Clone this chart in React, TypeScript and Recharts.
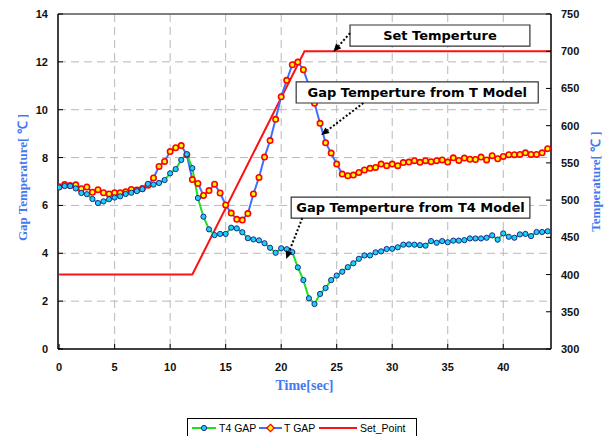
import React from 'react';
import {
  LineChart,
  Line,
  XAxis,
  YAxis,
  CartesianGrid,
  ReferenceArea,
  ReferenceLine,
} from 'recharts';

// time [sec], one sample every 0.5 s
const times = [
  0, 0.5, 1, 1.5, 2, 2.5, 3, 3.5, 4, 4.5, 5, 5.5, 6, 6.5, 7, 7.5, 8, 8.5, 9, 9.5,
  10, 10.5, 11, 11.5, 12, 12.5, 13, 13.5, 14, 14.5, 15, 15.5, 16, 16.5, 17, 17.5, 18, 18.5, 19, 19.5,
  20, 20.5, 21, 21.5, 22, 22.5, 23, 23.5, 24, 24.5, 25, 25.5, 26, 26.5, 27, 27.5, 28, 28.5, 29, 29.5,
  30, 30.5, 31, 31.5, 32, 32.5, 33, 33.5, 34, 34.5, 35, 35.5, 36, 36.5, 37, 37.5, 38, 38.5, 39, 39.5,
  40, 40.5, 41, 41.5, 42, 42.5, 43, 43.5, 44,
];

// gap temperature from the T4 model
const t4Gap = [
  6.75, 6.81, 6.81, 6.71, 6.52, 6.47, 6.27, 6.1, 6.17, 6.26, 6.33, 6.38, 6.48, 6.53, 6.6, 6.68, 6.9, 6.87, 6.94, 7.06,
  7.34, 7.52, 7.9, 8.14, 7.56, 6.31, 5.53, 5.0, 4.76, 4.81, 4.81, 5.07, 5.04, 4.88, 4.63, 4.58, 4.54, 4.42, 4.23, 4.02,
  4.21, 4.17, 4.05, 3.41, 2.88, 2.12, 1.88, 2.3, 2.55, 2.88, 3.07, 3.23, 3.42, 3.58, 3.77, 3.91, 3.91, 4.04, 4.08, 4.18,
  4.19, 4.25, 4.36, 4.37, 4.36, 4.34, 4.32, 4.51, 4.44, 4.51, 4.46, 4.53, 4.53, 4.55, 4.62, 4.62, 4.62, 4.65, 4.75, 4.57,
  4.83, 4.69, 4.65, 4.79, 4.81, 4.72, 4.89, 4.89, 4.92,
];

// gap temperature from the T model
const tGap = [
  6.78, 6.87, 6.83, 6.86, 6.7, 6.77, 6.55, 6.66, 6.53, 6.48, 6.53, 6.53, 6.57, 6.67, 6.64, 6.71, 6.84, 7.15, 7.63, 7.84,
  8.25, 8.41, 8.5, 8.12, 7.08, 6.92, 6.42, 6.62, 6.89, 6.52, 6.02, 5.68, 5.42, 5.39, 5.66, 6.48, 7.17, 8.02, 8.71, 9.6,
  10.54, 11.23, 11.88, 11.99, 11.67, 11.0, 10.27, 9.43, 8.62, 8.19, 7.73, 7.31, 7.24, 7.27, 7.38, 7.48, 7.55, 7.59, 7.73, 7.66,
  7.73, 7.66, 7.79, 7.81, 7.87, 7.8, 7.87, 7.83, 7.87, 7.9, 7.81, 7.99, 7.88, 7.98, 7.93, 7.92, 8.02, 7.9, 8.08, 7.95,
  8.05, 8.12, 8.12, 8.13, 8.2, 8.13, 8.13, 8.2, 8.37,
];

// set point temperature [°C] (right axis)
const setTimes = [0, 12, 22.1, 44.3];
const setPoint = [400, 400, 700, 700];

const xTicks = [0, 5, 10, 15, 20, 25, 30, 35, 40];
const gapTicks = [0, 2, 4, 6, 8, 10, 12, 14];
const tempTicks = [300, 350, 400, 450, 500, 550, 600, 650, 700, 750];

const gapData = times.map((t, i) => ({ t, t4: t4Gap[i], tg: tGap[i] }));
const setData = setTimes.map((t, i) => ({ t, sp: setPoint[i] }));

// callout boxes + arrows, in (time, gap) units
const notes = [
  { text: 'Set Temperture', x1: 26.2, x2: 42.4, y1: 12.66, y2: 13.54, from: [26.2, 13.2], to: [24.7, 12.42] },
  { text: 'Gap Temperture from T Model', x1: 21.35, x2: 43.15, y1: 10.28, y2: 11.16, from: [27.4, 10.28], to: [23.6, 8.94] },
  { text: 'Gap Temperture from T4 Model', x1: 20.9, x2: 42.4, y1: 5.47, y2: 6.35, from: [21.9, 5.47], to: [20.45, 3.76] },
];

const BLUE_TITLE = '#4479f2';
const tickFont = {
  fontFamily: '"Liberation Sans", Arial, sans-serif',
  fontWeight: 700,
  fontSize: 11,
  fill: '#111',
};
const titleFont = {
  fontFamily: '"Liberation Serif", "Times New Roman", serif',
  fontWeight: 700,
  fill: BLUE_TITLE,
};
const legendFont = {
  fontFamily: '"Liberation Sans", Arial, sans-serif',
  fontSize: 10.5,
  fill: '#000',
};

const LeftTick = ({ x, y, payload }: any) => (
  <g>
    <line x1={x + 10} x2={x + 15} y1={y} y2={y} stroke="#000" />
    <text x={x} y={y} dy="0.36em" textAnchor="end" {...tickFont}>{payload.value}</text>
  </g>
);

const RightTick = ({ x, y, payload }: any) => (
  <g>
    <line x1={x - 15} x2={x - 10} y1={y} y2={y} stroke="#000" />
    <text x={x} y={y} dy="0.36em" textAnchor="start" {...tickFont}>{payload.value}</text>
  </g>
);

const BottomTick = ({ x, y, payload }: any) => (
  <g>
    <line x1={x} x2={x} y1={y - 14} y2={y - 19} stroke="#000" />
    <text x={x} y={y} dy="0.71em" textAnchor="middle" {...tickFont}>{payload.value}</text>
  </g>
);

const Arrow = (p: any) => {
  const { x1, y1, x2, y2 } = p;
  const a = Math.atan2(y2 - y1, x2 - x1);
  const L = 8;
  const W = 3.5;
  const bx = x2 - L * Math.cos(a);
  const by = y2 - L * Math.sin(a);
  const pts = `${x2},${y2} ${bx + W * Math.sin(a)},${by - W * Math.cos(a)} ${bx - W * Math.sin(a)},${by + W * Math.cos(a)}`;
  return (
    <g>
      <line x1={x1} y1={y1} x2={bx} y2={by} stroke="#000" strokeWidth={2} strokeDasharray="2 2" />
      <polygon points={pts} fill="#000" />
    </g>
  );
};

const LeftTitle = (props: any) => {
  const vb = props.viewBox || { x: 0, y: 14, width: 58, height: 335 };
  const cx = vb.x + 22;
  const cy = vb.y + vb.height / 2 - 4;
  return (
    <text x={cx} y={cy} transform={`rotate(-90 ${cx} ${cy})`} textAnchor="middle" dy="0.35em" fontSize={13} {...titleFont}>
      Gap Temperature[ ℃ ]
    </text>
  );
};

const RightTitle = (props: any) => {
  const vb = props.viewBox || { x: 551, y: 14, width: 57, height: 335 };
  const cx = vb.x + 44;
  const cy = vb.y + vb.height / 2;
  return (
    <text x={cx} y={cy} transform={`rotate(-90 ${cx} ${cy})`} textAnchor="middle" dy="0.35em" fontSize={13} {...titleFont}>
      Temperature[ ℃ ]
    </text>
  );
};

const BottomTitle = (props: any) => {
  const vb = props.viewBox || { x: 58, y: 349, width: 493, height: 42 };
  const cx = vb.x + vb.width / 2;
  const cy = vb.y + 41;
  return (
    <text x={cx} y={cy} textAnchor="middle" fontSize={14} {...titleFont}>
      Time[sec]
    </text>
  );
};

const LegendBox = () => (
  <svg width={230} height={24} style={{ position: 'absolute', left: 187, top: 418 }}>
    <rect x={0.5} y={0.5} width={229} height={22} fill="#fff" stroke="#000" />
    <line x1={5} x2={29} y1={10} y2={10} stroke="#22dd22" strokeWidth={2} />
    <circle cx={17} cy={10} r={2.6} fill="#1ad0f5" stroke="#1a2a8a" />
    <text x={32} y={14} {...legendFont}>T4 GAP</text>
    <line x1={72} x2={95} y1={10} y2={10} stroke="#3f6fff" strokeWidth={2} />
    <polygon points="83.5,6.3 87.2,10 83.5,13.7 79.8,10" fill="#ffff00" stroke="#ff0000" strokeWidth={1.3} />
    <text x={97} y={14} {...legendFont}>T GAP</text>
    <line x1={132} x2={170} y1={10} y2={10} stroke="#ff1010" strokeWidth={2} />
    <text x={173} y={14} {...legendFont}>Set_Point</text>
  </svg>
);

export default function App() {
  return (
    <div
      style={{
        position: 'absolute',
        left: 0,
        top: 0,
        width: 608,
        height: 436,
        overflow: 'hidden',
        background: '#fff',
      }}
    >
      <LineChart width={608} height={436} margin={{ top: 14, right: 0, bottom: 45, left: 0 }}>
        <CartesianGrid
          stroke="#b8b8b8"
          strokeDasharray="8 5"
          horizontalValues={[2, 4, 6, 8, 10, 12]}
          verticalValues={[5, 10, 15, 20, 25, 30, 35, 40]}
        />
        <XAxis
          type="number"
          dataKey="t"
          domain={[-0.1, 44.3]}
          ticks={xTicks}
          allowDataOverflow
          height={42}
          tickSize={0}
          tickMargin={14}
          tick={<BottomTick />}
          axisLine={{ stroke: '#000', strokeWidth: 1.5 }}
          label={{ content: (p: any) => <BottomTitle {...p} /> }}
        />
        <YAxis
          domain={[0, 14]}
          ticks={gapTicks}
          width={58}
          tickSize={0}
          tickMargin={10}
          tick={<LeftTick />}
          axisLine={{ stroke: '#000', strokeWidth: 1.5 }}
          label={{ content: (p: any) => <LeftTitle {...p} /> }}
        />
        <YAxis
          yAxisId="right"
          orientation="right"
          domain={[300, 750]}
          ticks={tempTicks}
          width={57}
          tickSize={0}
          tickMargin={10}
          tick={<RightTick />}
          axisLine={{ stroke: '#000', strokeWidth: 1.5 }}
          label={{ content: (p: any) => <RightTitle {...p} /> }}
        />
        <ReferenceLine y={14} stroke="#555" strokeWidth={1.5} />
        <Line
          yAxisId="right"
          data={setData}
          dataKey="sp"
          name="Set_Point"
          stroke="#ff1010"
          strokeWidth={2}
          dot={false}
          isAnimationActive={false}
        />
        <Line
          data={gapData}
          dataKey="tg"
          name="T GAP"
          stroke="#3f6fff"
          strokeWidth={2}
          dot={{ r: 2.7, fill: '#ffff00', stroke: '#ff0000', strokeWidth: 1.6 }}
          isAnimationActive={false}
        />
        <Line
          data={gapData}
          dataKey="t4"
          name="T4 GAP"
          stroke="#22dd22"
          strokeWidth={2}
          dot={{ r: 2.6, fill: '#1ad0f5', stroke: '#1a2a8a', strokeWidth: 1 }}
          isAnimationActive={false}
        />
        {notes.map((n) => (
          <ReferenceArea
            key={n.text}
            x1={n.x1}
            x2={n.x2}
            y1={n.y1}
            y2={n.y2}
            fill="#fff"
            fillOpacity={1}
            stroke="#333"
            strokeWidth={1.2}
            zIndex={1500}
            label={{
              value: n.text,
              position: 'center',
              fill: '#000',
              fontSize: 13,
              fontWeight: 700,
              fontFamily: '"DejaVu Sans", Verdana, sans-serif',
            }}
          />
        ))}
        {notes.map((n) => (
          <ReferenceLine
            key={n.text + '-arrow'}
            segment={[
              { x: n.from[0], y: n.from[1] },
              { x: n.to[0], y: n.to[1] },
            ]}
            zIndex={1600}
            shape={(p: any) => <Arrow {...p} />}
          />
        ))}
      </LineChart>
      <LegendBox />
    </div>
  );
}
